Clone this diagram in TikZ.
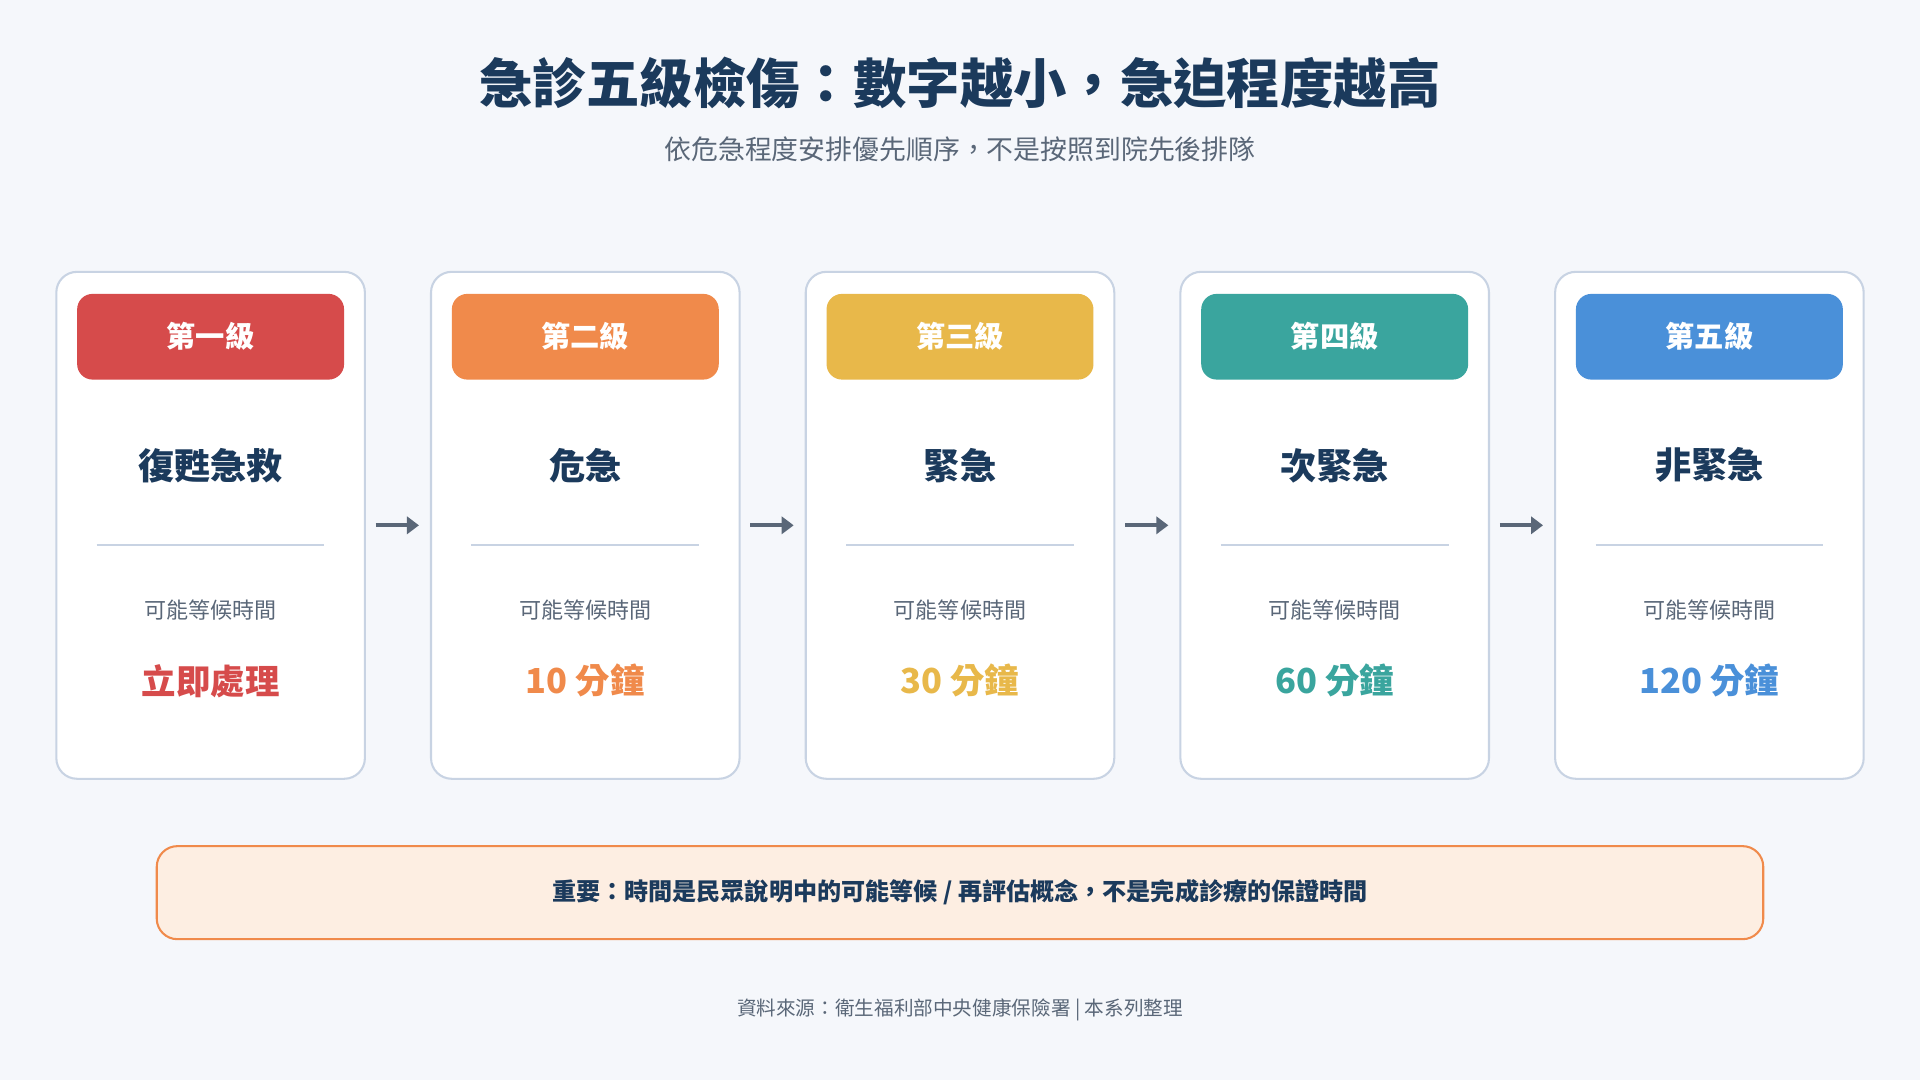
\documentclass[tikz,border=0pt]{standalone}
\usepackage{fontspec}
\setmainfont{Noto Sans CJK TC}
\usetikzlibrary{positioning,calc,arrows.meta}
\definecolor{bgc}{HTML}{F5F7FB}
\definecolor{navy}{HTML}{1B3A5C}
\definecolor{grayt}{HTML}{5A6778}
\definecolor{cardln}{HTML}{C8D3E3}
\definecolor{lvA}{HTML}{D64B4B}
\definecolor{lvB}{HTML}{F08A4B}
\definecolor{lvC}{HTML}{E8B84A}
\definecolor{lvD}{HTML}{3AA59E}
\definecolor{lvE}{HTML}{4A90D9}
\definecolor{notefill}{HTML}{FDEEE2}
\tikzset{
  card/.style={draw=cardln,line width=1.2pt,fill=white,rounded corners=12pt,minimum width=252*0.025cm,minimum height=414*0.025cm},
  badge/.style={fill=#1,rounded corners=9pt,minimum width=218*0.025cm,minimum height=70*0.025cm,text=white,font=\fontsize{17}{20}\selectfont\bfseries},
  flow/.style={-{Triangle[length=7pt,width=10pt]},line width=2.4pt,draw=grayt}
}
\begin{document}
\begin{tikzpicture}[x=0.025cm,y=-0.025cm]
	\fill[bgc] (0,0) rectangle (1568,882);
	\node[text=navy,font=\fontsize{31}{36}\selectfont\bfseries] (title) at (784,68) {急診五級檢傷：數字越小，急迫程度越高};
	\node[text=grayt,font=\fontsize{15.6}{18}\selectfont] (sub) at (784,122) {依危急程度安排優先順序，不是按照到院先後排隊};
	\foreach \i/\c/\lv/\nm/\tm in {0/lvA/第一級/復甦急救/立即處理,1/lvB/第二級/危急/10 分鐘,2/lvC/第三級/緊急/30 分鐘,3/lvD/第四級/次緊急/60 分鐘,4/lvE/第五級/非緊急/120 分鐘}{
		\pgfmathsetmacro{\cx}{172+306*\i}
		\node[card] (card\i) at (\cx,429) {};
		\node[badge=\c] (badge\i) at (\cx,275) {\lv};
		\node[text=navy,font=\fontsize{21}{24}\selectfont\bfseries] (name\i) at (\cx,380) {\nm};
		\draw[cardln,line width=1.2pt] (\cx-93,445) -- (\cx+93,445);
		\node[text=grayt,font=\fontsize{12.8}{15}\selectfont] (wait\i) at (\cx,498) {可能等候時間};
		\node[text=\c,font=\fontsize{20}{23}\selectfont\bfseries] (time\i) at (\cx,556) {\tm};
	}
	\foreach \i [evaluate=\i as \j using int(\i+1)] in {0,...,3}
		\draw[flow,shorten <=8*0.025cm,shorten >=9*0.025cm] (card\i.east) -- (card\j.west);
	\node[draw=lvB,line width=1.2pt,fill=notefill,rounded corners=12pt,minimum width=1312*0.025cm,minimum height=76*0.025cm,text=navy,font=\fontsize{14}{17}\selectfont\bfseries] (note) at (784,729) {重要：時間是民眾說明中的可能等候 / 再評估概念，不是完成診療的保證時間};
	\node[text=grayt,font=\fontsize{11.4}{14}\selectfont] (src) at (784,825) {資料來源：衛生福利部中央健康保險署 | 本系列整理};
\end{tikzpicture}
\end{document}
